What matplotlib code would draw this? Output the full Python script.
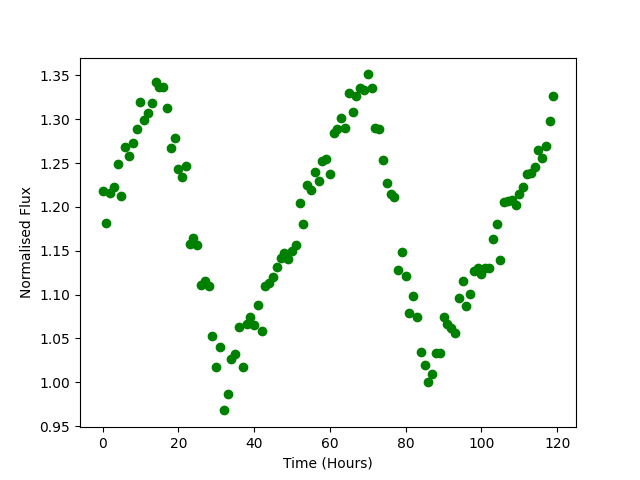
import numpy as np
import matplotlib
matplotlib.use('Agg')
import matplotlib.pyplot as plt

# flux readings, one per hour
hours = np.arange(0, 120)
flux = [1.218, 1.182, 1.216, 1.223, 1.249, 1.212, 1.268, 1.258, 1.273, 1.289,
        1.320, 1.299, 1.307, 1.318, 1.342, 1.337, 1.337, 1.313, 1.267, 1.279,
        1.243, 1.234, 1.247, 1.158, 1.164, 1.156, 1.111, 1.116, 1.110, 1.053,
        1.017, 1.040, 0.968, 0.987, 1.027, 1.032, 1.063, 1.018, 1.067, 1.075,
        1.065, 1.088, 1.058, 1.110, 1.113, 1.120, 1.132, 1.142, 1.147, 1.141,
        1.150, 1.157, 1.204, 1.181, 1.225, 1.219, 1.240, 1.229, 1.252, 1.254,
        1.237, 1.284, 1.289, 1.301, 1.290, 1.330, 1.308, 1.326, 1.336, 1.333,
        1.351, 1.335, 1.290, 1.289, 1.253, 1.227, 1.215, 1.211, 1.128, 1.148,
        1.121, 1.079, 1.098, 1.074, 1.034, 1.020, 1.000, 1.009, 1.033, 1.033,
        1.074, 1.067, 1.062, 1.056, 1.096, 1.116, 1.087, 1.101, 1.127, 1.130,
        1.123, 1.130, 1.130, 1.163, 1.180, 1.139, 1.205, 1.207, 1.208, 1.202,
        1.215, 1.223, 1.238, 1.239, 1.246, 1.265, 1.256, 1.269, 1.298, 1.326]

plt.figure(figsize=(6.4, 4.8), dpi=100)
plt.plot(hours, flux, 'go')
plt.xlabel('Time (Hours)')
plt.ylabel('Normalised Flux')
plt.savefig('out.png')
